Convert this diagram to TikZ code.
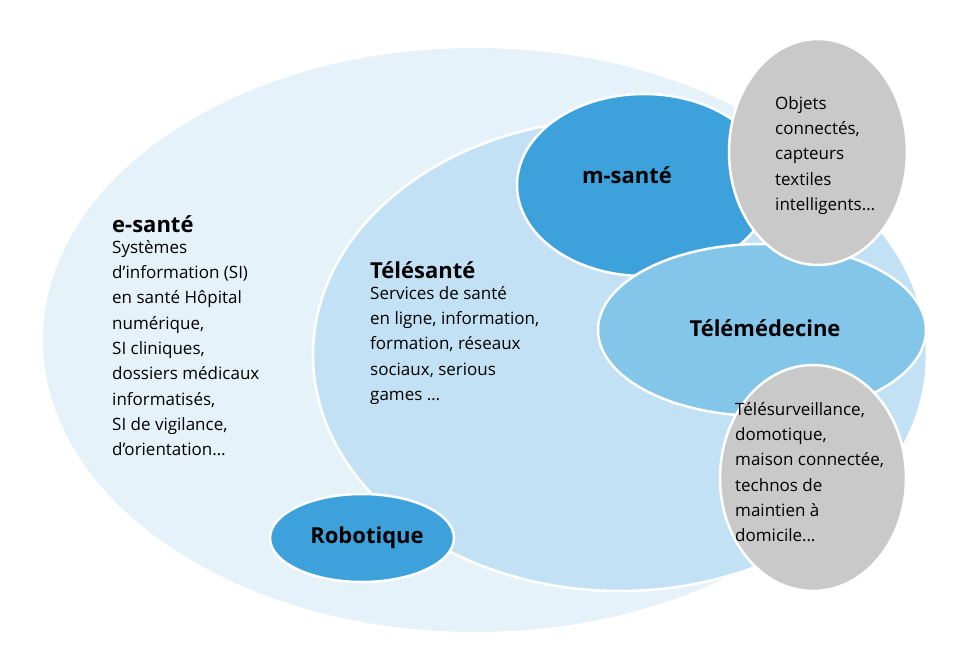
\documentclass[tikz,border=0pt]{standalone}
\usepackage{fontspec}
\setmainfont{Open Sans}
\usetikzlibrary{positioning}
\definecolor{outerblue}{HTML}{E6F2FA}
\definecolor{teleblue}{HTML}{C3E1F4}
\definecolor{midblue}{HTML}{84C5EA}
\definecolor{deepblue}{HTML}{3DA2DC}
\definecolor{greyball}{HTML}{C9C9C9}
\tikzset{
  blob/.style={ellipse, draw=white, line width=2.5pt},
  body/.style={align=left, font=\fontsize{17}{25.3}\selectfont, inner sep=0pt},
  title/.style={font=\fontsize{22}{26}\selectfont\bfseries, inner sep=0pt}
}
\usetikzlibrary{shapes.geometric}
\begin{document}
\begin{tikzpicture}[x=1pt,y=-1pt]
  \useasboundingbox (0,0) rectangle (978,652);
  \fill[outerblue] (475,340) ellipse [x radius=432, y radius=292];
  \draw[blob, fill=teleblue] (620,355) ellipse [x radius=307, y radius=236];
  \draw[blob, fill=deepblue] (644,185) ellipse [x radius=127, y radius=91];
  \draw[blob, fill=midblue] (762,330) ellipse [x radius=164, y radius=86];
  \draw[blob, fill=greyball] (818,152) ellipse [x radius=89, y radius=113];
  \draw[blob, fill=greyball] (813,478) ellipse [x radius=93, y radius=113];
  \draw[blob, fill=deepblue] (362,538) ellipse [x radius=92, y radius=44];
  % labels
  \node[title, anchor=west] (esante) at (112,224) {e-santé};
  \node[body, anchor=north west] (esantetxt) at (112,240) {Systèmes\\d’information (SI)\\en santé Hôpital\\numérique,\\SI cliniques,\\dossiers médicaux\\informatisés,\\SI de vigilance,\\d’orientation…};
  \node[title, anchor=west] (telesante) at (370,270) {Télésanté};
  \node[body, anchor=north west] (telesantetxt) at (370,286) {Services de santé\\en ligne, information,\\formation, réseaux\\sociaux, serious\\games …};
  \node[title] (msante) at (627,175) {m-santé};
  \node[title] (telemed) at (765,328) {Télémédecine};
  \node[title] (robot) at (367,538) {Robotique};
  \node[body, anchor=north west] (objets) at (775,96) {Objets\\connectés,\\capteurs\\textiles\\intelligents…};
  \node[body, anchor=north west] (surv) at (735,402) {Télésurveillance,\\domotique,\\maison connectée,\\technos de\\maintien à\\domicile…};
\end{tikzpicture}
\end{document}
